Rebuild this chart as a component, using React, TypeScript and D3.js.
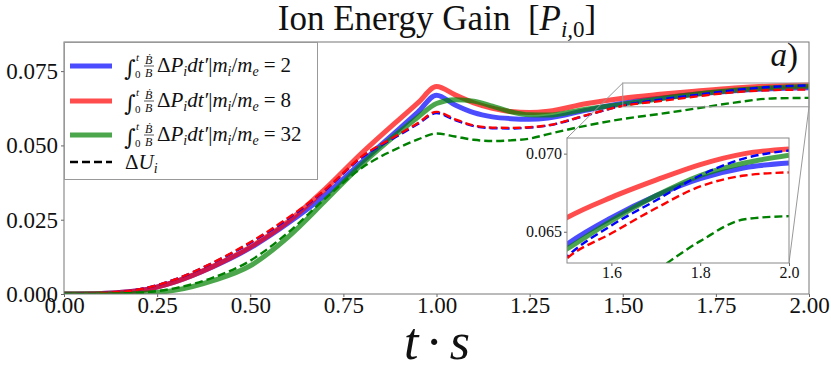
import React, { useEffect, useRef } from "react";
import * as d3 from "d3";

// time samples (t·s) shared by every series
const times = [0, 0.1, 0.2, 0.3, 0.4, 0.5, 0.6, 0.7, 0.8, 0.9, 0.95, 1.0, 1.05, 1.1, 1.15, 1.2, 1.25, 1.3, 1.4, 1.5, 1.6, 1.7, 1.8, 1.9, 2.0];

// integral of (Bdot/B) dP_i for each mass ratio (solid)
const blueSolid = [0, 0.0002, 0.0011, 0.0042, 0.0092, 0.0155, 0.0237, 0.0332, 0.0445, 0.0556, 0.0612, 0.0669, 0.0636, 0.061, 0.0596, 0.059, 0.0588, 0.0592, 0.0618, 0.0642, 0.0659, 0.0673, 0.0684, 0.0691, 0.0694];
const redSolid = [0, 0.0002, 0.0011, 0.0042, 0.0093, 0.0158, 0.0242, 0.0352, 0.0475, 0.0588, 0.0643, 0.0698, 0.067, 0.0643, 0.0625, 0.0614, 0.0611, 0.0615, 0.064, 0.0659, 0.0672, 0.0683, 0.0693, 0.07, 0.0703];
const greenSolid = [0, 0, 0.0002, 0.0013, 0.0045, 0.0095, 0.019, 0.0312, 0.0437, 0.0545, 0.0595, 0.0641, 0.0654, 0.0649, 0.0632, 0.0613, 0.0603, 0.0602, 0.0622, 0.0639, 0.0657, 0.0673, 0.0686, 0.0694, 0.0699];

// Delta U_i (dashed)
const blueDash = [0, 0.0003, 0.0015, 0.005, 0.0105, 0.0172, 0.0252, 0.0348, 0.046, 0.0535, 0.0572, 0.0609, 0.0585, 0.0565, 0.0558, 0.0557, 0.056, 0.0567, 0.06, 0.0634, 0.0654, 0.067, 0.0686, 0.0697, 0.0702];
const redDash = [0, 0.0003, 0.0015, 0.005, 0.0106, 0.0174, 0.0255, 0.035, 0.0463, 0.0538, 0.0575, 0.0613, 0.0588, 0.0567, 0.056, 0.0559, 0.0561, 0.0568, 0.0601, 0.0633, 0.0649, 0.0665, 0.0679, 0.0686, 0.0688];
const greenDash = [0, 0.0001, 0.0004, 0.002, 0.0055, 0.0112, 0.0205, 0.032, 0.0425, 0.0493, 0.052, 0.054, 0.053, 0.0519, 0.0515, 0.0517, 0.0523, 0.0538, 0.0566, 0.0589, 0.0606, 0.0625, 0.0644, 0.0658, 0.066];

const massRatios = [2, 8, 32];
const xTicks = [0, 0.25, 0.5, 0.75, 1.0, 1.25, 1.5, 1.75, 2.0];
const yTicks = [0, 0.025, 0.05, 0.075];
const insetXTicks = [1.6, 1.8, 2.0];
const insetYTicks = [0.065, 0.07];

const W = 831;
const H = 371;
const FONT = "'Liberation Serif', 'DejaVu Serif', serif";

export default function App() {
  const ref = useRef<SVGSVGElement>(null);

  useEffect(() => {
    const svg = d3.select(ref.current);
    svg.selectAll("*").remove();

    const x = d3.scaleLinear().domain([0, 2]).range([64, 809]);
    const y = d3.scaleLinear().domain([0, 0.0848]).range([294, 42]);
    const xi = d3.scaleLinear().domain([1.5, 2.0]).range([567, 789]);
    const yi = d3.scaleLinear().domain([0.063, 0.071]).range([263, 138]);

    const series = [
      { v: blueSolid, c: "blue", w: 5, o: 0.7, dash: null },
      { v: redSolid, c: "red", w: 5, o: 0.7, dash: null },
      { v: greenSolid, c: "green", w: 5, o: 0.7, dash: null },
      { v: blueDash, c: "blue", w: 2.4, o: 1, dash: "8,4" },
      { v: redDash, c: "red", w: 2.4, o: 1, dash: "8,4" },
      { v: greenDash, c: "green", w: 2.4, o: 1, dash: "8,4" },
    ];

    const defs = svg.append("defs");
    defs.append("clipPath").attr("id", "clip-main").append("rect")
      .attr("x", 64).attr("y", 42).attr("width", 745).attr("height", 252);
    defs.append("clipPath").attr("id", "clip-inset").append("rect")
      .attr("x", 567).attr("y", 138).attr("width", 222).attr("height", 125);

    // main curves
    const line = d3.line<number>()
      .x((_, i) => x(times[i]))
      .y((d) => y(d))
      .curve(d3.curveMonotoneX);
    const gMain = svg.append("g").attr("clip-path", "url(#clip-main)");
    series.forEach((s) => {
      gMain.append("path")
        .attr("d", line(s.v))
        .attr("fill", "none")
        .attr("stroke", s.c)
        .attr("stroke-opacity", s.o)
        .attr("stroke-width", s.w)
        .attr("stroke-dasharray", s.dash);
    });

    // main axes
    const xAxis = svg.append("g").attr("transform", "translate(0,294)")
      .call(d3.axisBottom(x).tickValues(xTicks).tickFormat(d3.format(".2f")).tickSize(3).tickPadding(0));
    const yAxis = svg.append("g").attr("transform", "translate(64,0)")
      .call(d3.axisLeft(y).tickValues(yTicks).tickFormat(d3.format(".3f")).tickSize(3).tickPadding(3));
    [xAxis, yAxis].forEach((a) => {
      a.select(".domain").remove();
      a.selectAll("line").attr("stroke", "#666");
      a.selectAll("text").attr("font-family", FONT).attr("font-size", 23).attr("fill", "#111");
    });
    svg.append("rect").attr("x", 64).attr("y", 42).attr("width", 745).attr("height", 252)
      .attr("fill", "none").attr("stroke", "#777").attr("stroke-width", 1);

    // zoom indicator + connectors
    const zx0 = x(1.5), zx1 = x(2.0), zy0 = y(0.071), zy1 = y(0.063);
    svg.append("rect").attr("x", zx0).attr("y", zy0).attr("width", zx1 - zx0).attr("height", zy1 - zy0)
      .attr("fill", "none").attr("stroke", "#999");
    svg.append("line").attr("x1", zx0).attr("y1", zy0).attr("x2", 567).attr("y2", 138).attr("stroke", "#999");
    svg.append("line").attr("x1", zx1).attr("y1", zy1).attr("x2", 789).attr("y2", 263).attr("stroke", "#999");

    // inset
    svg.append("rect").attr("x", 567).attr("y", 138).attr("width", 222).attr("height", 125).attr("fill", "white");
    const lineI = d3.line<number>()
      .x((_, i) => xi(times[i]))
      .y((d) => yi(d))
      .curve(d3.curveMonotoneX);
    const gIn = svg.append("g").attr("clip-path", "url(#clip-inset)");
    series.forEach((s) => {
      gIn.append("path")
        .attr("d", lineI(s.v))
        .attr("fill", "none")
        .attr("stroke", s.c)
        .attr("stroke-opacity", s.o)
        .attr("stroke-width", s.w)
        .attr("stroke-dasharray", s.dash);
    });
    const xiAxis = svg.append("g").attr("transform", "translate(0,263)")
      .call(d3.axisBottom(xi).tickValues(insetXTicks).tickFormat(d3.format(".1f")).tickSize(3).tickPadding(1));
    const yiAxis = svg.append("g").attr("transform", "translate(567,0)")
      .call(d3.axisLeft(yi).tickValues(insetYTicks).tickFormat(d3.format(".3f")).tickSize(3).tickPadding(2));
    [xiAxis, yiAxis].forEach((a) => {
      a.select(".domain").remove();
      a.selectAll("line").attr("stroke", "#666");
      a.selectAll("text").attr("font-family", FONT).attr("font-size", 16).attr("fill", "#111");
    });
    svg.append("rect").attr("x", 567).attr("y", 138).attr("width", 222).attr("height", 125)
      .attr("fill", "none").attr("stroke", "#888");

    // legend
    const leg = svg.append("g");
    leg.append("rect").attr("x", 64.5).attr("y", 42.5).attr("width", 253).attr("height", 137)
      .attr("fill", "white").attr("fill-opacity", 0.85).attr("stroke", "#999");
    const rowY = [66, 101, 135, 162];
    const legColors = ["blue", "red", "green"];
    massRatios.forEach((m, i) => {
      const ly = rowY[i];
      leg.append("line").attr("x1", 70).attr("x2", 112).attr("y1", ly).attr("y2", ly)
        .attr("stroke", legColors[i]).attr("stroke-opacity", 0.7).attr("stroke-width", 5);
      const x0 = 124, b = ly + 6;
      leg.append("text").attr("x", x0).attr("y", b + 4).attr("font-family", "'DejaVu Serif', serif")
        .attr("font-size", 22).attr("fill", "#111").text("∫");
      leg.append("text").attr("x", x0 + 12).attr("y", b - 11).attr("font-family", FONT)
        .attr("font-style", "italic").attr("font-size", 11).attr("fill", "#111").text("t");
      leg.append("text").attr("x", x0 + 11).attr("y", b + 6).attr("font-family", FONT)
        .attr("font-size", 11).attr("fill", "#111").text("0");
      leg.append("text").attr("x", x0 + 21).attr("y", b - 8).attr("font-family", FONT)
        .attr("font-style", "italic").attr("font-size", 12).attr("fill", "#111").text("Ḃ");
      leg.append("line").attr("x1", x0 + 20).attr("x2", x0 + 30).attr("y1", b - 6).attr("y2", b - 6)
        .attr("stroke", "#111").attr("stroke-width", 0.7);
      leg.append("text").attr("x", x0 + 21).attr("y", b + 5).attr("font-family", FONT)
        .attr("font-style", "italic").attr("font-size", 12).attr("fill", "#111").text("B");
      const t = leg.append("text").attr("x", x0 + 33).attr("y", b).attr("font-family", FONT)
        .attr("font-size", 21).attr("fill", "#111");
      t.append("tspan").text("Δ");
      t.append("tspan").attr("font-style", "italic").text("P");
      t.append("tspan").attr("font-style", "italic").attr("font-size", 14).attr("dy", 4).text("i");
      t.append("tspan").attr("font-style", "italic").attr("dy", -4).text("dt′");
      t.append("tspan").text("|");
      t.append("tspan").attr("font-style", "italic").text("m");
      t.append("tspan").attr("font-style", "italic").attr("font-size", 14).attr("dy", 4).text("i");
      t.append("tspan").attr("dy", -4).text("/");
      t.append("tspan").attr("font-style", "italic").text("m");
      t.append("tspan").attr("font-style", "italic").attr("font-size", 14).attr("dy", 4).text("e");
      t.append("tspan").attr("dy", -4).attr("dx", 5).text("=");
      t.append("tspan").attr("dx", 5).text(String(m));
    });
    leg.append("line").attr("x1", 70).attr("x2", 112).attr("y1", rowY[3]).attr("y2", rowY[3])
      .attr("stroke", "black").attr("stroke-width", 2.4).attr("stroke-dasharray", "8,4");
    const du = leg.append("text").attr("x", 125).attr("y", rowY[3] + 7).attr("font-family", FONT)
      .attr("font-size", 21).attr("fill", "#111");
    du.append("tspan").text("Δ");
    du.append("tspan").attr("font-style", "italic").text("U");
    du.append("tspan").attr("font-style", "italic").attr("font-size", 14).attr("dy", 4).text("i");

    // panel tag
    const tag = svg.append("text").attr("x", 798).attr("y", 66).attr("text-anchor", "end")
      .attr("font-family", FONT).attr("font-size", 33).attr("fill", "#111");
    tag.append("tspan").attr("font-style", "italic").text("a");
    tag.append("tspan").text(")");

    // title
    const title = svg.append("text").attr("x", 437).attr("y", 30).attr("text-anchor", "middle")
      .attr("font-family", FONT).attr("font-size", 35).attr("fill", "#111")
      .attr("xml:space", "preserve");
    title.append("tspan").text("Ion Energy Gain  [");
    title.append("tspan").attr("font-style", "italic").text("P");
    title.append("tspan").attr("font-style", "italic").attr("font-size", 23).attr("dy", 7).text("i,");
    title.append("tspan").attr("font-size", 23).text("0");
    title.append("tspan").attr("dy", -7).text("]");

    // x label
    const xl = svg.append("text").attr("x", 437).attr("y", 359).attr("text-anchor", "middle")
      .attr("font-family", FONT).attr("font-size", 52).attr("fill", "#111");
    xl.append("tspan").attr("font-style", "italic").text("t");
    xl.append("tspan").attr("dx", 7).text("·");
    xl.append("tspan").attr("dx", 7).attr("font-style", "italic").text("s");
  }, []);

  return (
    <svg
      ref={ref}
      width={W}
      height={H}
      style={{ position: "absolute", left: 0, top: 0, background: "white" }}
    />
  );
}
